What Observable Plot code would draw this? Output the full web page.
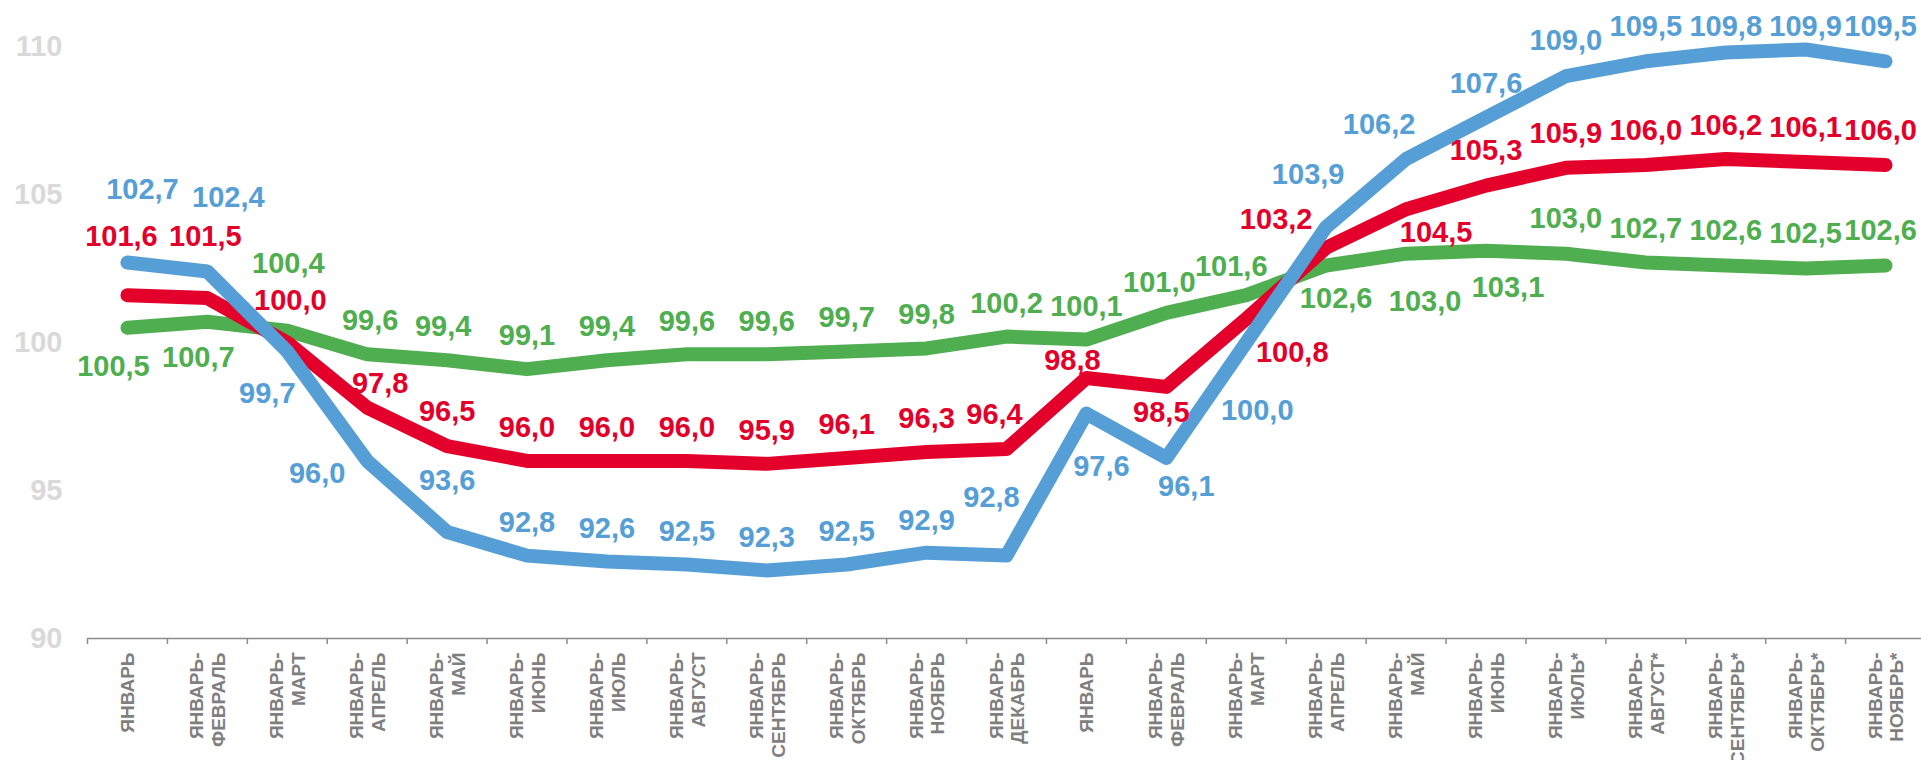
<!DOCTYPE html>
<html>
<head>
<meta charset="utf-8">
<script src="https://cdn.jsdelivr.net/npm/d3@7"></script>
<script src="https://cdn.jsdelivr.net/npm/@observablehq/plot@0.6"></script>
<style>
  html, body { margin: 0; padding: 0; background: #fff; }
  #chart svg { display: block; }
</style>
</head>
<body>
<div id="chart"></div>
<script>
// Categories (x tick labels)
const categories = [
  "ЯНВАРЬ", "ЯНВАРЬ-\nФЕВРАЛЬ", "ЯНВАРЬ-\nМАРТ", "ЯНВАРЬ-\nАПРЕЛЬ", "ЯНВАРЬ-\nМАЙ",
  "ЯНВАРЬ-\nИЮНЬ", "ЯНВАРЬ-\nИЮЛЬ", "ЯНВАРЬ-\nАВГУСТ", "ЯНВАРЬ-\nСЕНТЯБРЬ", "ЯНВАРЬ-\nОКТЯБРЬ",
  "ЯНВАРЬ-\nНОЯБРЬ", "ЯНВАРЬ-\nДЕКАБРЬ", "ЯНВАРЬ", "ЯНВАРЬ-\nФЕВРАЛЬ", "ЯНВАРЬ-\nМАРТ",
  "ЯНВАРЬ-\nАПРЕЛЬ", "ЯНВАРЬ-\nМАЙ", "ЯНВАРЬ-\nИЮНЬ", "ЯНВАРЬ-\nИЮЛЬ*", "ЯНВАРЬ-\nАВГУСТ*",
  "ЯНВАРЬ-\nСЕНТЯБРЬ*", "ЯНВАРЬ-\nОКТЯБРЬ*", "ЯНВАРЬ-\nНОЯБРЬ*"
];

// Series values
const blueValues = [102.7, 102.4, 99.7, 96.0, 93.6, 92.8, 92.6, 92.5, 92.3, 92.5, 92.9, 92.8,
  97.6, 96.1, 100.0, 103.9, 106.2, 107.6, 109.0, 109.5, 109.8, 109.9, 109.5];
const redValues = [101.6, 101.5, 100.0, 97.8, 96.5, 96.0, 96.0, 96.0, 95.9, 96.1, 96.3, 96.4,
  98.8, 98.5, 100.8, 103.2, 104.5, 105.3, 105.9, 106.0, 106.2, 106.1, 106.0];
const greenValues = [100.5, 100.7, 100.4, 99.6, 99.4, 99.1, 99.4, 99.6, 99.6, 99.7, 99.8, 100.2,
  100.1, 101.0, 101.6, 102.6, 103.0, 103.1, 103.0, 102.7, 102.6, 102.5, 102.6];

// Y tick labels
const yTicks = [90, 95, 100, 105, 110];

// Label placement offsets (px) relative to each point
const blueLabelDx = [15, 21, -20, -50, 0, 0, 0, 0, 0, 0, 0, -15, 15, 20, 11, -18, -27, 0, 0, 0, 0, 0, -5];
const blueLabelDy = [-73, -74, 42, 13, -51, -33, -33, -33, -33, -33, -32, -58, 53, 29, 68, -52, -34, -34, -35, -35, -26, -23, -35];
const redLabelDx = [-6, -2, 3, 13, 0, 0, 0, 0, 0, 0, 0, -12, -14, -5, 46, -50, 30, 0, 0, 0, 0, 0, -5];
const redLabelDy = [-58, -61, -42, -24, -34, -33, -33, -33, -33, -33, -33, -34, -17, 26, 34, -28, 23, -35, -34, -34, -33, -34, -34];
const greenLabelDx = [-14, -9, 1, 3, -4, 0, 0, 0, 0, 0, 0, 0, 0, -7, -15, 10, 19, 22, 0, 0, 0, 0, -5];
const greenLabelDy = [39, 36, -67, -34, -34, -33, -34, -33, -33, -34, -34, -33, -33, -30, -28, 33, 48, 37, -35, -34, -35, -35, -35];

const series = [
  {name: "green", color: "#4FAE4F", values: greenValues, dx: greenLabelDx, dy: greenLabelDy},
  {name: "red", color: "#E3002B", values: redValues, dx: redLabelDx, dy: redLabelDy},
  {name: "blue", color: "#559FD6", values: blueValues, dx: blueLabelDx, dy: blueLabelDy}
];

const fmt = v => v.toFixed(1).replace(".", ",");
const font = "'Liberation Sans', Arial, sans-serif";

const marks = [];

// x axis baseline + ticks at category boundaries
marks.push(Plot.ruleY([90], {stroke: "#8c8c8c", strokeWidth: 1.5}));
marks.push(Plot.axisX(d3.range(categories.length + 1).map(i => i - 0.5), {
  tickSize: 6, tickFormat: () => "", stroke: "#8c8c8c", strokeWidth: 1.5, label: null
}));

// y axis labels
marks.push(Plot.axisY(yTicks, {
  tickSize: 0, tickPadding: 25, fontSize: 29, fontWeight: "bold",
  color: "#d9d9d9", tickFormat: d => String(d), label: null
}));

// category labels
marks.push(Plot.text(categories, {
  x: (d, i) => i, frameAnchor: "bottom", dy: 14, rotate: -90,
  textAnchor: "end", lineAnchor: "middle", lineHeight: 1.15,
  fontSize: 19, fontWeight: "bold", fill: "#7f7f7f", text: d => d
}));

// lines
for (const s of series) {
  const rows = s.values.map((v, i) => ({i, v}));
  marks.push(Plot.line(rows, {
    x: "i", y: "v", stroke: s.color, strokeWidth: 14,
    strokeLinecap: "round", strokeLinejoin: "round"
  }));
}

// value labels
for (const s of series) {
  s.values.forEach((v, i) => {
    marks.push(Plot.text([{i, v}], {
      x: "i", y: "v", text: d => fmt(d.v), fill: s.color,
      fontSize: 29, fontWeight: "bold", textAnchor: "middle",
      dx: s.dx[i], dy: s.dy[i]
    }));
  });
}

const chart = Plot.plot({
  width: 1921,
  height: 760,
  marginTop: 46,
  marginBottom: 122,
  marginLeft: 87,
  marginRight: 0,
  style: {fontFamily: font, background: "#fff", overflow: "visible"},
  x: {type: "linear", domain: [-0.5, categories.length - 0.5], range: [87, 1925], axis: null, label: null},
  y: {domain: [90, 110], axis: null, label: null},
  marks
});

document.getElementById("chart").appendChild(chart);
</script>
</body>
</html>
